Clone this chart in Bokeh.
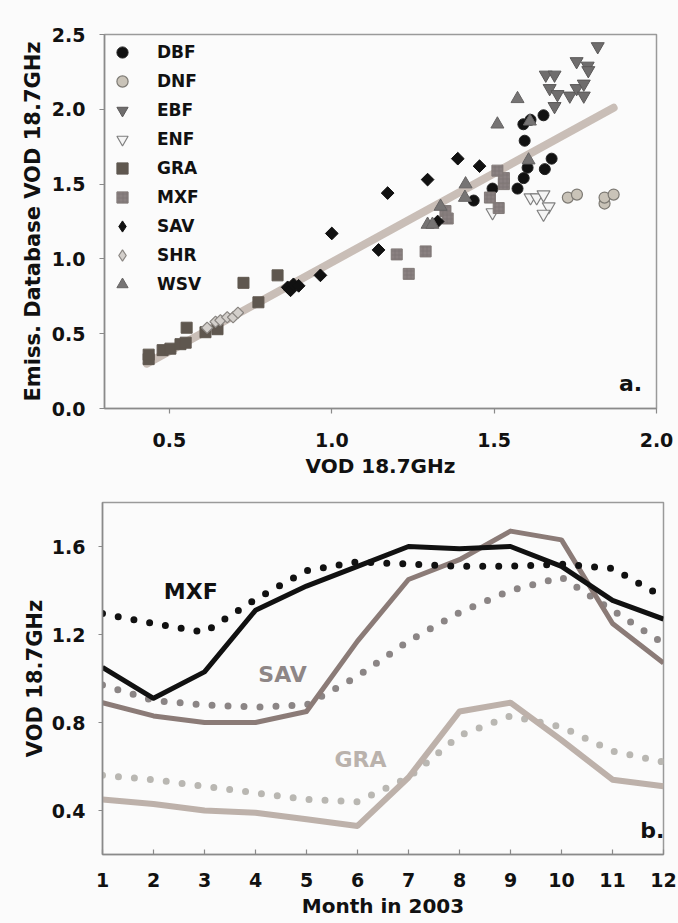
import numpy as np
from bokeh.plotting import figure
from bokeh.layouts import column, row
from bokeh.models import FixedTicker, NumeralTickFormatter, Label, Range1d, Legend, LegendItem
from bokeh.embed import file_html
from bokeh.resources import INLINE

# ---------------- panel a: VOD 18.7GHz vs emission database VOD, per land-cover class
dbf_x = [1.437, 1.495, 1.572, 1.591, 1.603, 1.656, 1.677, 1.594, 1.590, 1.612, 1.652]
dbf_y = [1.39, 1.47, 1.47, 1.54, 1.61, 1.60, 1.67, 1.79, 1.90, 1.93, 1.96]

dnf_x = [1.727, 1.755, 1.840, 1.840, 1.868]
dnf_y = [1.41, 1.43, 1.37, 1.41, 1.43]

ebf_x = [1.819, 1.754, 1.788, 1.790, 1.659, 1.686, 1.671, 1.695, 1.733, 1.754, 1.776, 1.776, 1.686]
ebf_y = [2.42, 2.32, 2.29, 2.26, 2.23, 2.23, 2.14, 2.10, 2.09, 2.14, 2.17, 2.09, 2.02]

enf_x = [1.495, 1.612, 1.631, 1.652, 1.668, 1.652]
enf_y = [1.31, 1.41, 1.41, 1.43, 1.35, 1.30]

gra_x = [0.436, 0.436, 0.479, 0.503, 0.534, 0.550, 0.553, 0.611, 0.648, 0.728, 0.774, 0.833]
gra_y = [0.33, 0.36, 0.39, 0.40, 0.43, 0.44, 0.54, 0.51, 0.53, 0.84, 0.71, 0.89]

mxf_x = [1.200, 1.237, 1.289, 1.350, 1.357, 1.487, 1.514, 1.530, 1.530, 1.510]
mxf_y = [1.03, 0.90, 1.05, 1.32, 1.27, 1.41, 1.34, 1.50, 1.54, 1.59]

sav_x = [0.864, 0.873, 0.882, 0.898, 0.965, 1.000, 1.144, 1.172, 1.295, 1.326, 1.388, 1.455]
sav_y = [0.81, 0.79, 0.83, 0.82, 0.89, 1.17, 1.06, 1.44, 1.53, 1.25, 1.67, 1.62]

shr_x = [0.616, 0.642, 0.657, 0.678, 0.696, 0.711]
shr_y = [0.54, 0.58, 0.59, 0.61, 0.61, 0.64]

wsv_x = [1.295, 1.310, 1.335, 1.410, 1.412, 1.510, 1.572, 1.606, 1.610]
wsv_y = [1.23, 1.23, 1.35, 1.41, 1.50, 1.90, 2.07, 1.66, 1.92]

# end points of the fitted regression line
fit_x = [0.43, 1.868]
fit_y = [0.30, 2.01]

classes = ["DBF", "DNF", "EBF", "ENF", "GRA", "MXF", "SAV", "SHR", "WSV"]

# ---------------- panel b: monthly VOD 2003 (solid) and database VOD (dotted)
months = [1, 2, 3, 4, 5, 6, 7, 8, 9, 10, 11, 12]
mxf_vod = [1.05, 0.91, 1.03, 1.31, 1.42, 1.51, 1.60, 1.59, 1.60, 1.51, 1.355, 1.27]
mxf_db = [1.295, 1.25, 1.21, 1.36, 1.49, 1.53, 1.52, 1.51, 1.51, 1.52, 1.50, 1.37]
sav_vod = [0.89, 0.83, 0.80, 0.80, 0.85, 1.17, 1.45, 1.54, 1.67, 1.63, 1.25, 1.07]
sav_db = [0.97, 0.90, 0.88, 0.87, 0.88, 1.01, 1.17, 1.30, 1.40, 1.46, 1.31, 1.16]
gra_vod = [0.45, 0.43, 0.40, 0.39, 0.36, 0.33, 0.55, 0.85, 0.89, 0.72, 0.54, 0.51]
gra_db = [0.56, 0.54, 0.51, 0.48, 0.45, 0.44, 0.55, 0.74, 0.83, 0.78, 0.67, 0.62]

BG = "#fbfbfb"
FONT = "DejaVu Sans"
AXIS_GREY = "#8a8a8a"


def style_axes(p, title_x, title_y):
    p.background_fill_color = BG
    p.border_fill_color = BG
    p.outline_line_color = "#9a9a9a"
    p.outline_line_width = 1.5
    p.xgrid.visible = False
    p.ygrid.visible = False
    for ax in (p.xaxis[0], p.yaxis[0]):
        ax.axis_line_color = AXIS_GREY
        ax.axis_line_width = 1.5
        ax.major_tick_line_color = AXIS_GREY
        ax.major_tick_line_width = 1.2
        ax.minor_tick_line_color = None
        ax.major_label_text_font = FONT
        ax.major_label_text_font_style = "bold"
        ax.major_label_text_font_size = "19px"
        ax.major_label_text_color = "#111111"
        ax.axis_label_text_font = FONT
        ax.axis_label_text_font_style = "bold"
        ax.axis_label_text_color = "#111111"
        ax.formatter = NumeralTickFormatter(format="0.0")
    p.xaxis[0].axis_label = title_x
    p.yaxis[0].axis_label = title_y
    p.xaxis[0].axis_label_text_font_size = "20px"
    p.yaxis[0].axis_label_text_font_size = "21px"


# ---------------- figure a
p1 = figure(width=678, height=484, output_backend="svg", toolbar_location=None,
            x_range=Range1d(0.3, 2.0), y_range=Range1d(0.0, 2.5),
            min_border_left=104, min_border_right=22, min_border_top=34, min_border_bottom=76)
style_axes(p1, "VOD 18.7GHz", "Emiss. Database VOD 18.7GHz")
p1.xaxis[0].ticker = FixedTicker(ticks=[0.5, 1.0, 1.5, 2.0], minor_ticks=[])
p1.yaxis[0].ticker = FixedTicker(ticks=[0.0, 0.5, 1.0, 1.5, 2.0, 2.5], minor_ticks=[])
p1.xaxis[0].major_tick_in = 0
p1.xaxis[0].major_tick_out = 5
p1.xaxis[0].major_label_standoff = 19
p1.xaxis[0].axis_label_standoff = 4
p1.yaxis[0].major_tick_in = 0
p1.yaxis[0].major_tick_out = 5
p1.yaxis[0].major_label_standoff = 14
p1.yaxis[0].axis_label_standoff = 4

p1.line(fit_x, fit_y, line_color="#c9beb7", line_width=8, line_cap="round")

r_dbf = p1.scatter(dbf_x, dbf_y, marker="circle", size=11, fill_color="#111111",
                   line_color="#222222")
r_dnf = p1.scatter(dnf_x, dnf_y, marker="circle", size=11, fill_color="#c9c3b8",
                   line_color="#7d7a74", line_width=1.2)
r_ebf = p1.scatter(ebf_x, ebf_y, marker="inverted_triangle", size=13, fill_color="#6f6d6d",
                   line_color="#5a5858")
r_enf = p1.scatter(enf_x, enf_y, marker="inverted_triangle", size=13, fill_color="#f4f4f4",
                   line_color="#7f7f7f", line_width=1.2)
r_gra = p1.scatter(gra_x, gra_y, marker="square", size=11, fill_color="#5f574f",
                   line_color="#5f574f")
r_mxf = p1.scatter(mxf_x, mxf_y, marker="square", size=11, fill_color="#8a8181",
                   line_color="#827a78", hatch_pattern="+", hatch_color="#6e6666",
                   hatch_alpha=0.35, hatch_scale=4)

# diamond-marker copies of SAV / SHR, drawn first and covered by the rotated squares;
# they provide the key symbols, since the legend does not rotate markers
r_sav_key = p1.scatter(sav_x, sav_y, marker="diamond", size=11, fill_color="#111111",
                       line_color="#111111")
r_shr_key = p1.scatter(shr_x, shr_y, marker="diamond", size=10, fill_color="#d3cfcb",
                       line_color="#8a8682", line_width=1.2)
p1.scatter(sav_x, sav_y, marker="square", angle=np.pi / 4, size=9, fill_color="#111111",
           line_color="#111111")
p1.scatter(shr_x, shr_y, marker="square", angle=np.pi / 4, size=8, fill_color="#d3cfcb",
           line_color="#8a8682", line_width=1.2)
r_wsv = p1.scatter(wsv_x, wsv_y, marker="triangle", size=13, fill_color="#767474",
                   line_color="#666464")

key_renderers = [r_dbf, r_dnf, r_ebf, r_enf, r_gra, r_mxf, r_sav_key, r_shr_key, r_wsv]
leg = Legend(items=[LegendItem(label=c, renderers=[r]) for c, r in zip(classes, key_renderers)])
leg.location = "top_left"
leg.margin = 4
leg.padding = 0
leg.spacing = 1
leg.glyph_width = 28
leg.glyph_height = 28
leg.label_height = 28
leg.label_standoff = 21
leg.label_text_font = FONT
leg.label_text_font_style = "bold"
leg.label_text_font_size = "17px"
leg.label_text_color = "#111111"
leg.border_line_alpha = 0
leg.background_fill_alpha = 0
p1.add_layout(leg)

p1.add_layout(Label(x=1.92, y=0.17, text="a.", text_font=FONT, text_font_style="bold",
                    text_font_size="22px", text_align="center", text_baseline="middle",
                    text_color="#111111"))

# ---------------- figure b
p2 = figure(width=678, height=439, output_backend="svg", toolbar_location=None,
            x_range=Range1d(1, 12), y_range=Range1d(0.2, 1.8),
            min_border_left=102, min_border_right=15, min_border_top=18, min_border_bottom=69)
style_axes(p2, "Month in 2003", "VOD 18.7GHz")
p2.xaxis[0].ticker = FixedTicker(ticks=months, minor_ticks=[])
p2.xaxis[0].formatter = NumeralTickFormatter(format="0")
p2.yaxis[0].ticker = FixedTicker(ticks=[0.4, 0.8, 1.2, 1.6], minor_ticks=[])
p2.xaxis[0].major_tick_in = 5
p2.xaxis[0].major_tick_out = 0
p2.xaxis[0].major_label_standoff = 18
p2.xaxis[0].axis_label_standoff = 4
p2.yaxis[0].major_tick_in = 0
p2.yaxis[0].major_tick_out = 4
p2.yaxis[0].major_label_standoff = 13
p2.yaxis[0].axis_label_standoff = 2

DOTS = "0 16"
p2.line(months, gra_db, line_color="#b9b7b2", line_width=7, line_dash=DOTS, line_cap="round")
p2.line(months, gra_vod, line_color="#bdb1aa", line_width=6, line_join="round")
p2.line(months, sav_db, line_color="#8b8585", line_width=7, line_dash=DOTS, line_cap="round")
p2.line(months, sav_vod, line_color="#8b7b77", line_width=5, line_join="round")
p2.line(months, mxf_db, line_color="#111111", line_width=7, line_dash=DOTS, line_cap="round")
p2.line(months, mxf_vod, line_color="#111111", line_width=5, line_join="round")

for txt, x, y, col in [("MXF", 2.73, 1.395, "#111111"),
                       ("SAV", 4.53, 1.02, "#8e8686"),
                       ("GRA", 6.06, 0.63, "#bab2ac")]:
    p2.add_layout(Label(x=x, y=y, text=txt, text_font=FONT, text_font_style="bold",
                        text_font_size="22px", text_align="center", text_baseline="middle",
                        text_color=col))
p2.add_layout(Label(x=11.78, y=0.31, text="b.", text_font=FONT, text_font_style="bold",
                    text_font_size="22px", text_align="center", text_baseline="middle",
                    text_color="#111111"))

layout = column(row(p1), row(p2), spacing=0)
layout.styles = {"background-color": BG}
open("out.html", "w").write(file_html(layout, INLINE))
